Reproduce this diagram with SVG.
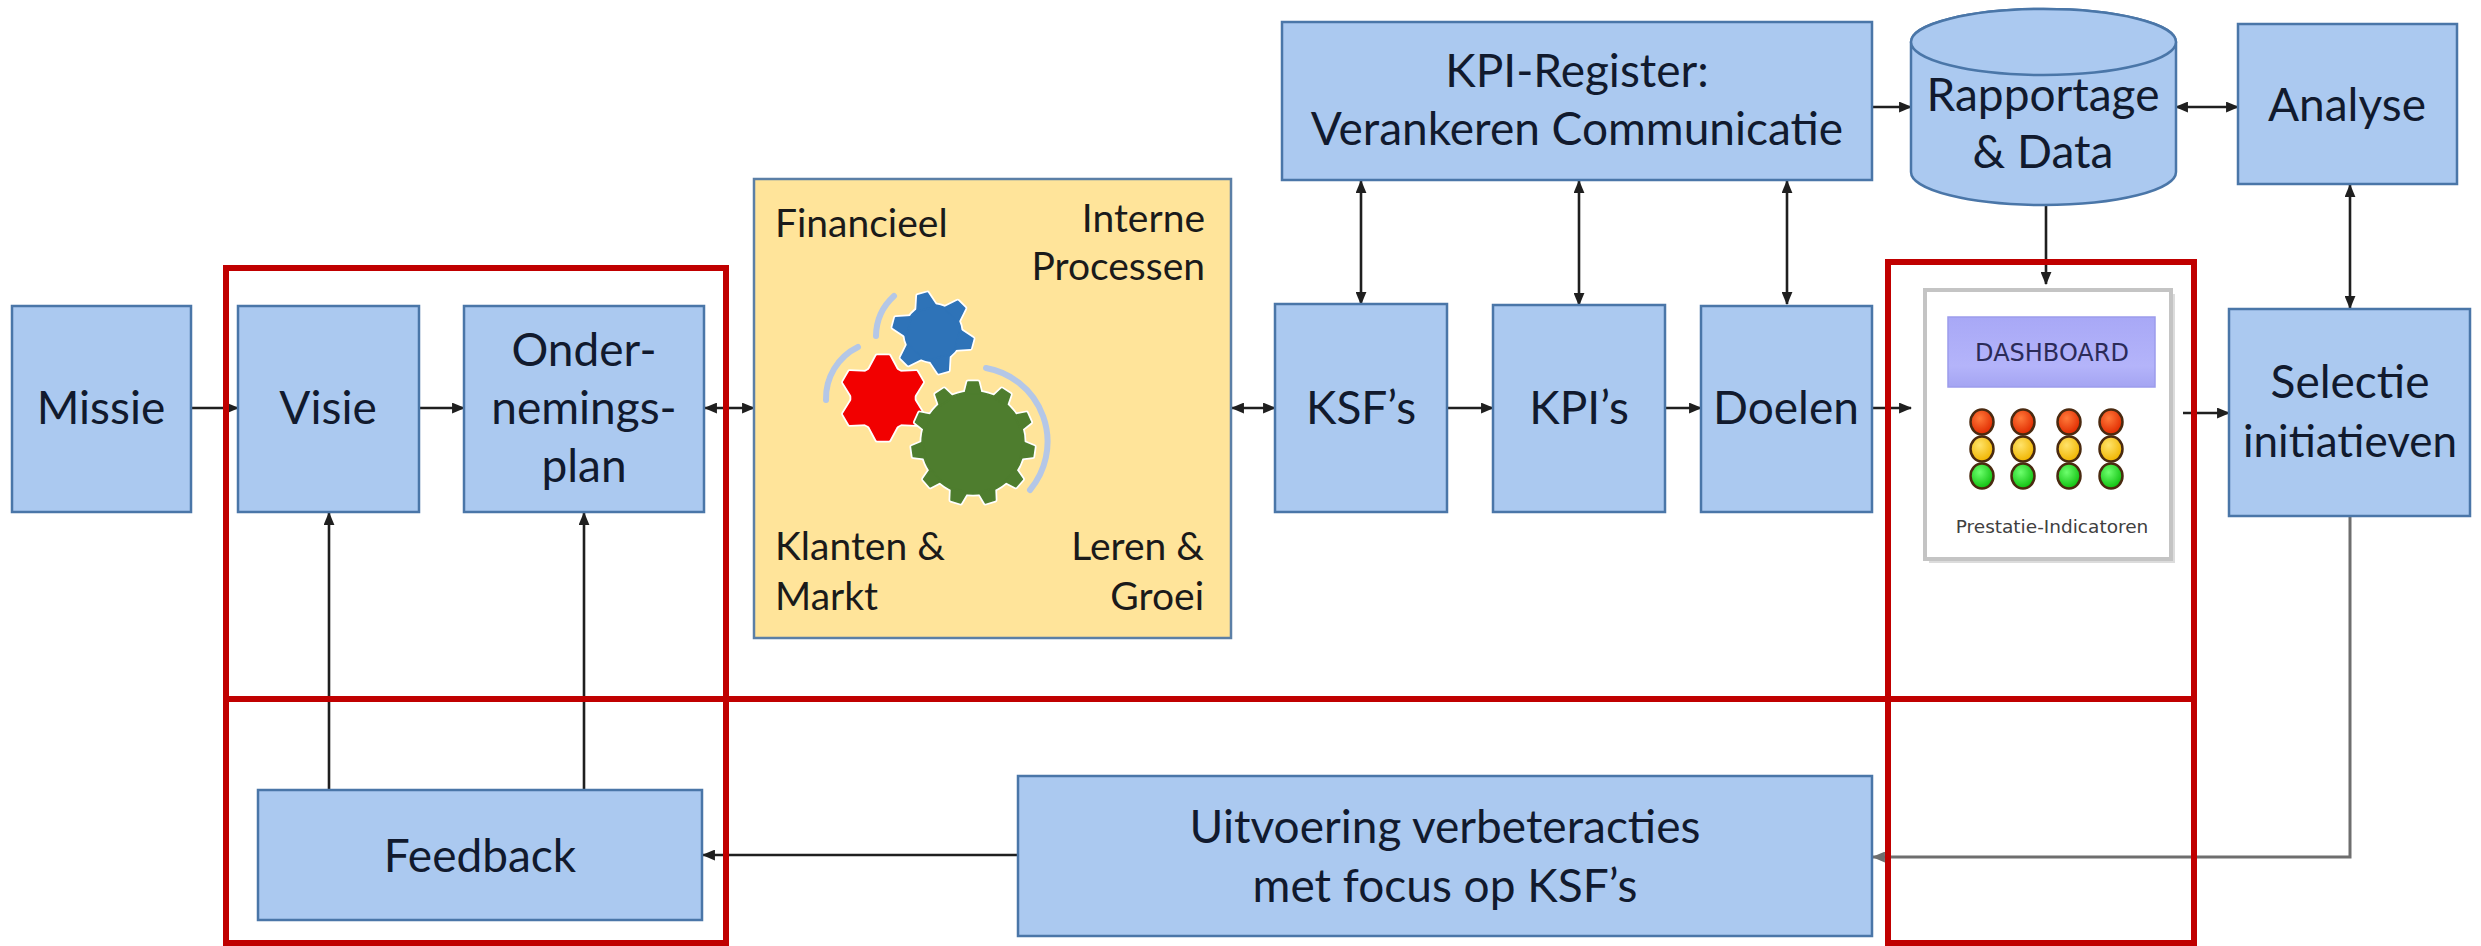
<svg xmlns="http://www.w3.org/2000/svg" width="2481" height="946" viewBox="0 0 2481 946">
  <style>
    .box { fill: #abc9f0; stroke: #4a76a8; stroke-width: 2.5; }
    .lbl { font-family: Lato, "Liberation Sans", sans-serif; font-size: 46px; fill: #111a2e; text-anchor: middle; }
    .q { font-family: Lato, "Liberation Sans", sans-serif; font-size: 39px; fill: #1a1a1a; }
    .con { fill: none; stroke: #1f1f1f; stroke-width: 2.6; }
    .con-grey { fill: none; stroke: #6e6e6e; stroke-width: 3; }
    .frame { fill: none; stroke: #c00000; stroke-width: 6; }
    .arc { fill: none; stroke: #b4c7e7; stroke-width: 6; stroke-linecap: round; }
  </style>
  <defs>
    <marker id="ah" viewBox="0 0 12 10" refX="11" refY="5" markerWidth="13" markerHeight="11" markerUnits="userSpaceOnUse" orient="auto-start-reverse">
      <path d="M0,0 L12,5 L0,10 z" fill="#1f1f1f"/>
    </marker>
    <marker id="ahg" viewBox="0 0 12 10" refX="11" refY="5" markerWidth="13" markerHeight="11" markerUnits="userSpaceOnUse" orient="auto-start-reverse">
      <path d="M0,0 L12,5 L0,10 z" fill="#6e6e6e"/>
    </marker>
    <!-- gear shapes: body circle plus teeth, colour set by <use> -->
    <polygon id="toothS" points="-10,-25 -5,-40 5,-40 10,-25"/>
    <g id="gearSix">
      <circle r="28"/>
      <use href="#toothS"/>
      <use href="#toothS" transform="rotate(60)"/>
      <use href="#toothS" transform="rotate(120)"/>
      <use href="#toothS" transform="rotate(180)"/>
      <use href="#toothS" transform="rotate(240)"/>
      <use href="#toothS" transform="rotate(300)"/>
    </g>
    <polygon id="toothR" points="-14,-27 -6,-42 6,-42 14,-27"/>
    <g id="gearStar">
      <circle r="31"/>
      <use href="#toothR"/>
      <use href="#toothR" transform="rotate(60)"/>
      <use href="#toothR" transform="rotate(120)"/>
      <use href="#toothR" transform="rotate(180)"/>
      <use href="#toothR" transform="rotate(240)"/>
      <use href="#toothR" transform="rotate(300)"/>
    </g>
    <polygon id="toothL" points="-8,-49 -5,-61 5,-61 8,-49"/>
    <g id="gearBig">
      <circle r="51"/>
      <use href="#toothL"/>
      <use href="#toothL" transform="rotate(32.73)"/>
      <use href="#toothL" transform="rotate(65.45)"/>
      <use href="#toothL" transform="rotate(98.18)"/>
      <use href="#toothL" transform="rotate(130.91)"/>
      <use href="#toothL" transform="rotate(163.64)"/>
      <use href="#toothL" transform="rotate(196.36)"/>
      <use href="#toothL" transform="rotate(229.09)"/>
      <use href="#toothL" transform="rotate(261.82)"/>
      <use href="#toothL" transform="rotate(294.55)"/>
      <use href="#toothL" transform="rotate(327.27)"/>
    </g>
    <radialGradient id="gRed" cx="40%" cy="35%" r="65%">
      <stop offset="0" stop-color="#ff7a3a"/><stop offset="1" stop-color="#e02a00"/>
    </radialGradient>
    <radialGradient id="gYel" cx="40%" cy="35%" r="65%">
      <stop offset="0" stop-color="#ffe36a"/><stop offset="1" stop-color="#f0b400"/>
    </radialGradient>
    <radialGradient id="gGrn" cx="40%" cy="35%" r="65%">
      <stop offset="0" stop-color="#6dff6d"/><stop offset="1" stop-color="#10c010"/>
    </radialGradient>
    <linearGradient id="gBar" x1="0" y1="0" x2="0" y2="1">
      <stop offset="0" stop-color="#a8a8f6"/><stop offset="0.7" stop-color="#b4b4fa"/><stop offset="1" stop-color="#a4a4f2"/>
    </linearGradient>
  </defs>

  <rect width="2481" height="946" fill="#ffffff"/>

  <!-- connectors -->
  <g id="connectors">
    <line class="con" x1="191" y1="408" x2="238" y2="408" marker-end="url(#ah)"/>
    <line class="con" x1="419" y1="408" x2="464" y2="408" marker-end="url(#ah)"/>
    <line class="con" x1="705" y1="408" x2="754" y2="408" marker-start="url(#ah)" marker-end="url(#ah)"/>
    <line class="con" x1="1232" y1="408" x2="1275" y2="408" marker-start="url(#ah)" marker-end="url(#ah)"/>
    <line class="con" x1="1447" y1="408" x2="1493" y2="408" marker-end="url(#ah)"/>
    <line class="con" x1="1665" y1="408" x2="1701" y2="408" marker-end="url(#ah)"/>
    <line class="con" x1="1872" y1="408" x2="1911" y2="408" marker-end="url(#ah)"/>
    <line class="con" x1="2183" y1="413" x2="2229" y2="413" marker-end="url(#ah)"/>
    <line class="con" x1="1361" y1="181" x2="1361" y2="304" marker-start="url(#ah)" marker-end="url(#ah)"/>
    <line class="con" x1="1579" y1="181" x2="1579" y2="305" marker-start="url(#ah)" marker-end="url(#ah)"/>
    <line class="con" x1="1787" y1="181" x2="1787" y2="304" marker-start="url(#ah)" marker-end="url(#ah)"/>
    <line class="con" x1="1872" y1="107" x2="1911" y2="107" marker-end="url(#ah)"/>
    <line class="con" x1="2176" y1="107" x2="2238" y2="107" marker-start="url(#ah)" marker-end="url(#ah)"/>
    <line class="con" x1="2046" y1="205" x2="2046" y2="284" marker-end="url(#ah)"/>
    <line class="con" x1="2350" y1="185" x2="2350" y2="308" marker-start="url(#ah)" marker-end="url(#ah)"/>
    <line class="con" x1="329" y1="790" x2="329" y2="513" marker-end="url(#ah)"/>
    <line class="con" x1="584" y1="790" x2="584" y2="513" marker-end="url(#ah)"/>
    <line class="con" x1="1018" y1="855" x2="703" y2="855" marker-end="url(#ah)"/>
    <polyline class="con-grey" points="2350,516 2350,857 1873,857" marker-end="url(#ahg)"/>
  </g>

  <!-- top row -->
  <g id="missie"><rect class="box" x="12" y="306" width="179" height="206"/><text class="lbl" x="101" y="424">Missie</text></g>
  <g id="visie"><rect class="box" x="238" y="306" width="181" height="206"/><text class="lbl" x="328" y="424">Visie</text></g>
  <g id="ondernemingsplan"><rect class="box" x="464" y="306" width="240" height="206"/>
    <text class="lbl" x="584" y="366">Onder-</text><text class="lbl" x="584" y="424">nemings-</text><text class="lbl" x="584" y="482">plan</text></g>

  <g id="perspectieven">
    <rect x="754" y="179" width="477" height="459" fill="#ffe49a" stroke="#5b7fa6" stroke-width="2.5"/>
    <text class="q" x="775" y="237">Financieel</text>
    <text class="q" x="1205" y="232" text-anchor="end">Interne</text>
    <text class="q" x="1205" y="280" text-anchor="end">Processen</text>
    <text class="q" x="775" y="560">Klanten &amp;</text>
    <text class="q" x="775" y="610">Markt</text>
    <text class="q" x="1204" y="560" text-anchor="end">Leren &amp;</text>
    <text class="q" x="1204" y="610" text-anchor="end">Groei</text>
    <!-- rotation arcs -->
    <path class="arc" d="M894,296 A55,55 0 0 0 876,336"/>
    <path class="arc" d="M858,347 A57,57 0 0 0 826,400"/>
    <path class="arc" d="M986,368 A75,75 0 0 1 1030,490"/>
    <!-- gears: white halo then colour -->
    <use href="#gearSix" transform="translate(933,333) rotate(-15)" fill="#ffffff" stroke="#ffffff" stroke-width="5" stroke-linejoin="round"/>
    <use href="#gearSix" transform="translate(933,333) rotate(-15)" fill="#2e73b8" stroke="#2e73b8" stroke-width="1.5" stroke-linejoin="round"/>
    <use href="#gearStar" transform="translate(883,398)" fill="#ffffff" stroke="#ffffff" stroke-width="5" stroke-linejoin="round"/>
    <use href="#gearStar" transform="translate(883,398)" fill="#f20000" stroke="#f20000" stroke-width="1.5" stroke-linejoin="round"/>
    <use href="#gearBig" transform="translate(973,443)" fill="#ffffff" stroke="#ffffff" stroke-width="5" stroke-linejoin="round"/>
    <use href="#gearBig" transform="translate(973,443)" fill="#4e7d2e" stroke="#4e7d2e" stroke-width="1.5" stroke-linejoin="round"/>
  </g>

  <g id="ksf"><rect class="box" x="1275" y="304" width="172" height="208"/><text class="lbl" x="1361" y="424">KSF’s</text></g>
  <g id="kpi"><rect class="box" x="1493" y="305" width="172" height="207"/><text class="lbl" x="1579" y="424">KPI’s</text></g>
  <g id="doelen"><rect class="box" x="1701" y="306" width="171" height="206"/><text class="lbl" x="1786" y="424">Doelen</text></g>

  <g id="kpi-register"><rect class="box" x="1282" y="22" width="590" height="158"/>
    <text class="lbl" x="1577" y="87">KPI-Register:</text><text class="lbl" x="1577" y="145">Verankeren Communicatie</text></g>

  <g id="rapportage">
    <path class="box" d="M1911,42 L1911,172 A132.5,33 0 0 0 2176,172 L2176,42 A132.5,33 0 0 0 1911,42 Z"/>
    <ellipse class="box" cx="2043.5" cy="42" rx="132.5" ry="33"/>
    <text class="lbl" x="2043" y="111">Rapportage</text><text class="lbl" x="2043" y="168">&amp; Data</text>
  </g>

  <g id="analyse"><rect class="box" x="2238" y="24" width="219" height="160"/><text class="lbl" x="2347" y="121">Analyse</text></g>

  <g id="dashboard">
    <rect x="1929" y="294" width="246" height="269" fill="#dcdcdc"/>
    <rect x="1925" y="290" width="246" height="269" fill="#ffffff" stroke="#c4c4c4" stroke-width="4"/>
    <rect x="1948" y="317" width="207" height="70" fill="url(#gBar)" stroke="#9c9cec" stroke-width="1.5"/>
    <text x="2052" y="361" font-family="'DejaVu Sans', Verdana, sans-serif" font-size="24" fill="#2b2b58" text-anchor="middle">DASHBOARD</text>
    <g stroke="#4a2a10" stroke-width="2.5">
      <ellipse cx="1982" cy="422" rx="11.5" ry="12.5" fill="url(#gRed)"/>
      <ellipse cx="2023" cy="422" rx="11.5" ry="12.5" fill="url(#gRed)"/>
      <ellipse cx="2069" cy="422" rx="11.5" ry="12.5" fill="url(#gRed)"/>
      <ellipse cx="2111" cy="422" rx="11.5" ry="12.5" fill="url(#gRed)"/>
      <ellipse cx="1982" cy="449" rx="11.5" ry="12.5" fill="url(#gYel)"/>
      <ellipse cx="2023" cy="449" rx="11.5" ry="12.5" fill="url(#gYel)"/>
      <ellipse cx="2069" cy="449" rx="11.5" ry="12.5" fill="url(#gYel)"/>
      <ellipse cx="2111" cy="449" rx="11.5" ry="12.5" fill="url(#gYel)"/>
      <ellipse cx="1982" cy="476" rx="11.5" ry="12.5" fill="url(#gGrn)"/>
      <ellipse cx="2023" cy="476" rx="11.5" ry="12.5" fill="url(#gGrn)"/>
      <ellipse cx="2069" cy="476" rx="11.5" ry="12.5" fill="url(#gGrn)"/>
      <ellipse cx="2111" cy="476" rx="11.5" ry="12.5" fill="url(#gGrn)"/>
    </g>
    <text x="2052" y="533" font-family="'DejaVu Sans', Verdana, sans-serif" font-size="18.5" fill="#404040" text-anchor="middle">Prestatie-Indicatoren</text>
  </g>

  <g id="selectie"><rect class="box" x="2229" y="309" width="241" height="207"/>
    <text class="lbl" x="2350" y="398" font-size="45">Selectie</text><text class="lbl" x="2350" y="457" style="font-size:44px">initiatieven</text></g>

  <!-- bottom row -->
  <g id="feedback"><rect class="box" x="258" y="790" width="444" height="130"/><text class="lbl" x="480" y="872">Feedback</text></g>
  <g id="uitvoering"><rect class="box" x="1018" y="776" width="854" height="160"/>
    <text class="lbl" x="1445" y="843">Uitvoering verbeteracties</text><text class="lbl" x="1445" y="902">met focus op KSF’s</text></g>

  <!-- red highlight frames -->
  <g id="highlights">
    <rect class="frame" x="226" y="268" width="500" height="675"/>
    <rect class="frame" x="1888" y="262" width="306" height="681"/>
    <line class="frame" x1="223" y1="699" x2="2197" y2="699"/>
  </g>
</svg>
